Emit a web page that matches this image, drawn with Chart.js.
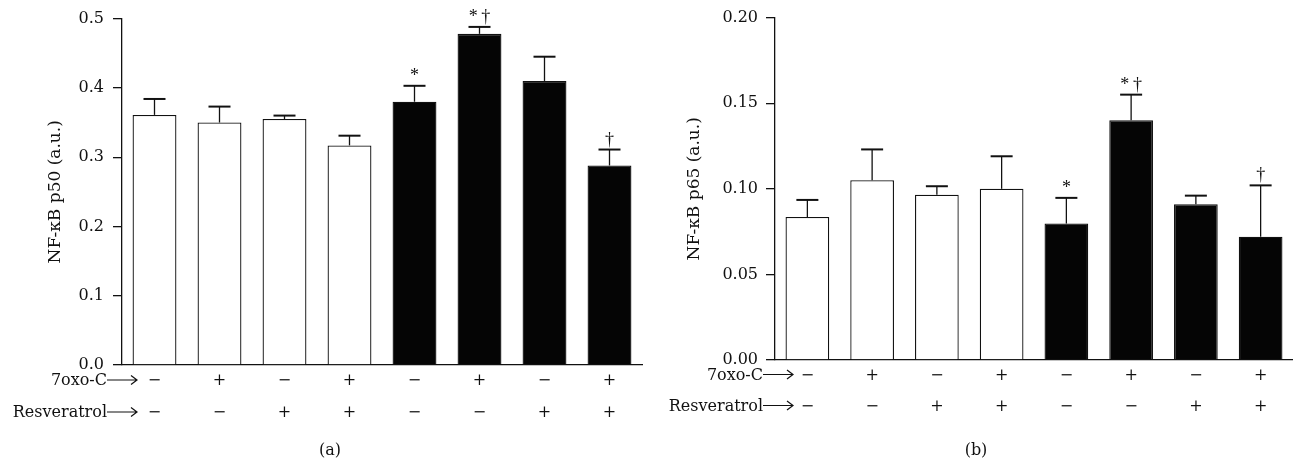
<!DOCTYPE html>
<html>
<head>
<meta charset="utf-8">
<script src="https://cdn.jsdelivr.net/npm/chart.js@4.4.1/dist/chart.umd.min.js"></script>
<style>
    html, body { margin: 0; padding: 0; background: #fff; }
    #figura { position: relative; width: 1293px; height: 463px; }
    canvas { position: absolute; top: 0; }
</style>
</head>
<body>
<div id="figura">
    <canvas id="graficoP50" width="646" height="463" style="left:0"></canvas>
    <canvas id="graficoP65" width="647" height="463" style="left:646px"></canvas>
</div>
<script>
// Tratamientos (fila 7oxo-C y fila Resveratrol)
const filaOxo = ['−', '+', '−', '+', '−', '+', '−', '+'];
const filaRes = ['−', '−', '+', '+', '−', '−', '+', '+'];

// NF-kB p50: media y error (barra superior)
const p50Media = [0.361, 0.350, 0.355, 0.317, 0.380, 0.478, 0.410, 0.288];
const p50Error = [0.023, 0.023, 0.005, 0.014, 0.023, 0.010, 0.035, 0.023];
const p50Ticks = [0.0, 0.1, 0.2, 0.3, 0.4, 0.5];

// NF-kB p65: media y error
const p65Media = [0.0835, 0.105, 0.0965, 0.100, 0.0797, 0.140, 0.091, 0.072];
const p65Error = [0.010, 0.018, 0.005, 0.019, 0.015, 0.015, 0.005, 0.030];
const p65Ticks = [0.00, 0.05, 0.10, 0.15, 0.20];

// Marcas de significancia
const marcas = ['', '', '', '', '*', '*\u2009†', '', '†'];

const fuente = '"DejaVu Serif", "Liberation Serif", serif';
const colores = filaOxo.map((_, i) => i < 4 ? '#ffffff' : '#050505');
const categorias = filaOxo.map((o, i) => [o, filaRes[i]]);

// Plugin: barras de error, marcas, filas de tratamiento y rótulo (a)/(b)
const anotaciones = {
    id: 'anotaciones',
    afterDatasetsDraw(chart, args, opts) {
        const ctx = chart.ctx;
        const y = chart.scales.y;
        const x = chart.scales.x;
        const meta = chart.getDatasetMeta(0);
        ctx.save();
        ctx.strokeStyle = '#111';
        ctx.fillStyle = '#111';
        meta.data.forEach((bar, i) => {
            const tope = y.getPixelForValue(opts.media[i] + opts.error[i]);
            ctx.lineWidth = 1.3;
            ctx.beginPath();
            ctx.moveTo(bar.x, bar.y);
            ctx.lineTo(bar.x, tope);
            ctx.stroke();
            ctx.lineWidth = 2;
            ctx.beginPath();
            ctx.moveTo(bar.x - 11, tope);
            ctx.lineTo(bar.x + 11, tope);
            ctx.stroke();
            if (opts.marcas[i]) {
                ctx.font = '18px "Liberation Serif", serif';
                ctx.textAlign = 'center';
                ctx.textBaseline = 'alphabetic';
                ctx.fillText(opts.marcas[i], bar.x, tope - 5);
            }
        });
        // nombres de las filas con su flecha
        ctx.font = '16px ' + fuente;
        ctx.textBaseline = 'middle';
        ctx.lineWidth = 1.2;
        opts.filas.forEach((f, k) => {
            const fy = x.top + opts.lh / 2 + k * opts.lh;
            const fa = fy - 1;
            const ini = opts.flechaX - 30;
            ctx.textAlign = 'right';
            ctx.fillText(f, ini, fy);
            ctx.beginPath();
            ctx.moveTo(ini, fa);
            ctx.lineTo(opts.flechaX, fa);
            ctx.moveTo(opts.flechaX - 6, fa - 4.5);
            ctx.lineTo(opts.flechaX, fa);
            ctx.lineTo(opts.flechaX - 6, fa + 4.5);
            ctx.stroke();
        });
        ctx.textAlign = 'center';
        ctx.fillText(opts.rotulo, 330, 451);
        ctx.restore();
    }
};

function crearGrafico(id, media, error, ticks, dec, titulo, conf) {
    const ctx = document.getElementById(id).getContext('2d');
    return new Chart(ctx, {
        type: 'bar',
        data: {
            labels: categorias,
            datasets: [{
                data: media,
                backgroundColor: colores,
                borderColor: '#111',
                borderWidth: 1.3,
                borderSkipped: 'bottom',
                categoryPercentage: 1,
                barPercentage: 0.675
            }]
        },
        options: {
            responsive: false,
            animation: false,
            layout: { padding: { left: 0, right: conf.derecha, top: conf.arriba, bottom: 5 } },
            plugins: {
                legend: { display: false },
                tooltip: { enabled: false },
                anotaciones: {
                    media: media, error: error, marcas: marcas,
                    filas: ['7oxo-C', 'Resveratrol'],
                    flechaX: conf.flechaX, lh: conf.lh, rotulo: conf.rotulo
                }
            },
            scales: {
                x: {
                    grid: { display: false, drawTicks: false },
                    border: { display: true, color: '#111', width: 1.3 },
                    ticks: {
                        padding: 0, color: '#111', maxRotation: 0, autoSkip: false,
                        font: { family: fuente, size: 16, lineHeight: conf.lh + 'px' }
                    },
                    afterFit: s => { s.height = conf.altoX; }
                },
                y: {
                    min: ticks[0],
                    max: ticks[ticks.length - 1],
                    afterBuildTicks: s => { s.ticks = ticks.map(v => ({ value: v })); },
                    grid: { drawOnChartArea: false, drawTicks: true, tickLength: 9, color: '#111', lineWidth: 1.3 },
                    border: { display: true, color: '#111', width: 1.3 },
                    ticks: {
                        padding: conf.padTick, color: '#111',
                        font: { family: fuente, size: 16 },
                        callback: v => Number(v).toFixed(dec)
                    },
                    title: {
                        display: true, text: titulo, color: '#111',
                        font: { family: fuente, size: 17 },
                        padding: { top: conf.padTitulo, bottom: 0 }
                    },
                    afterFit: s => { s.width = conf.anchoY; }
                }
            }
        },
        plugins: [anotaciones]
    });
}

// Gráfico (a): p50
crearGrafico('graficoP50', p50Media, p50Error, p50Ticks, 1, 'NF-κB p50 (a.u.)', {
    derecha: 4, arriba: 18, altoX: 93, anchoY: 122, padTick: 9, padTitulo: 45.8,
    flechaX: 137, lh: 32, rotulo: '(a)'
});

// Gráfico (b): p65
crearGrafico('graficoP65', p65Media, p65Error, p65Ticks, 2, 'NF-κB p65 (a.u.)', {
    derecha: 0, arriba: 14, altoX: 98, anchoY: 129, padTick: 8, padTitulo: 38.8,
    flechaX: 147, lh: 31, rotulo: '(b)'
});
</script>
</body>
</html>
